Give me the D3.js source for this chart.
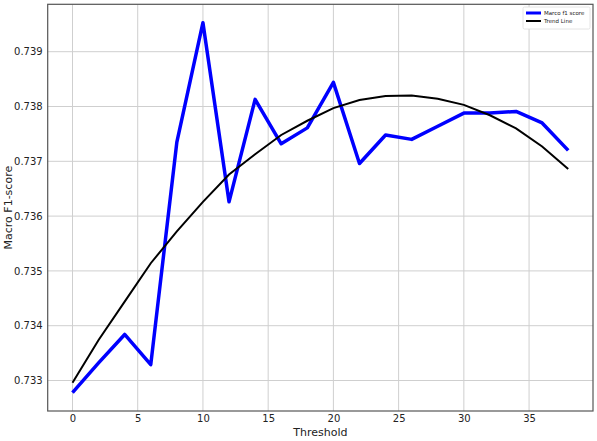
<!DOCTYPE html>
<html><head><meta charset="utf-8">
<script src="https://cdn.jsdelivr.net/npm/d3@7"></script>
<style>body{margin:0;background:#fff}svg{display:block}text{font-family:"DejaVu Sans",sans-serif}</style>
</head><body>
<script>
const thresholds = [0,2,4,6,8,10,12,14,16,18,20,22,24,26,28,30,32,34,36,38];
const macroF1 = [0.73278,0.73332,0.73384,0.73329,0.73735,0.73953,0.73626,0.73813,0.73732,0.73761,0.73844,0.73696,0.73748,0.73740,0.73764,0.73788,0.73788,0.73791,0.73770,0.73720];
const trend = [0.73296,0.73374,0.73444,0.73514,0.73572,0.73626,0.73676,0.73713,0.73748,0.73774,0.73797,0.73812,0.73819,0.73820,0.73814,0.73803,0.73784,0.73760,0.73727,0.73686];
const xTicks = [0,5,10,15,20,25,30,35];
const yTicks = [0.733,0.734,0.735,0.736,0.737,0.738,0.739];
const seriesNames = ["Marco f1 score","Trend Line"];

const W=597,H=441;
const L=47.7,R=593,T=4.3,B=411;
const svg=d3.select("body").append("svg").attr("width",W).attr("height",H);
const x=d3.scaleLinear().domain([-1.9,39.9]).range([L,R]);
const y=d3.scaleLinear().domain([0.733,0.739]).range([380.5,51.7]);
y.domain([y.invert(B),y.invert(T)]).range([B,T]);

const g=svg.append("g");
g.selectAll(".gx").data(xTicks).join("line").attr("x1",d=>x(d)).attr("x2",d=>x(d)).attr("y1",T).attr("y2",B).attr("stroke","#cfcfcf").attr("stroke-width",1);
g.selectAll(".gy").data(yTicks).join("line").attr("y1",d=>y(d)).attr("y2",d=>y(d)).attr("x1",L).attr("x2",R).attr("stroke","#cfcfcf").attr("stroke-width",1);

const xa=svg.append("g").attr("transform",`translate(0,${B})`).call(d3.axisBottom(x).tickValues(xTicks).tickSize(0).tickPadding(4).tickFormat(d3.format("d")));
const ya=svg.append("g").attr("transform",`translate(${L},0)`).call(d3.axisLeft(y).tickValues(yTicks).tickSize(0).tickPadding(5).tickFormat(d3.format(".3f")));
[xa,ya].forEach(a=>{a.select(".domain").remove();a.selectAll("text").attr("font-size",10).attr("fill","#222").attr("font-family","DejaVu Sans");});

const line=d3.line().x((d,i)=>x(thresholds[i])).y(d=>y(d));
svg.append("path").datum(macroF1).attr("d",line).attr("fill","none").attr("stroke","#0000ff").attr("stroke-width",3.5).attr("stroke-linejoin","round");
svg.append("path").datum(trend).attr("d",line).attr("fill","none").attr("stroke","#000").attr("stroke-width",2);

svg.append("rect").attr("x",L).attr("y",T).attr("width",R-L).attr("height",B-T).attr("fill","none").attr("stroke","#555").attr("stroke-width",1.2);

svg.append("text").attr("x",(L+R)/2).attr("y",436).attr("text-anchor","middle").attr("font-size",11).attr("fill","#222").text("Threshold");
svg.append("text").attr("transform",`translate(12,${(T+B)/2}) rotate(-90)`).attr("text-anchor","middle").attr("font-size",11).attr("fill","#222").text("Macro F1-score");

const lg=svg.append("g").attr("transform","translate(523,7)");
lg.append("rect").attr("x",0).attr("y",0).attr("width",67).attr("height",22).attr("fill","#fff").attr("stroke","#ddd").attr("stroke-width",0.8).attr("rx",1.5);
const colors=["#0000ff","#000"];
seriesNames.forEach((n,i)=>{
  lg.append("line").attr("x1",3).attr("x2",18).attr("y1",6+i*8).attr("y2",6+i*8).attr("stroke",colors[i]).attr("stroke-width",i?2:3);
  lg.append("text").attr("x",21).attr("y",8+i*8).attr("font-size",5.5).attr("fill","#222").text(n);
});
</script>
</body></html>
